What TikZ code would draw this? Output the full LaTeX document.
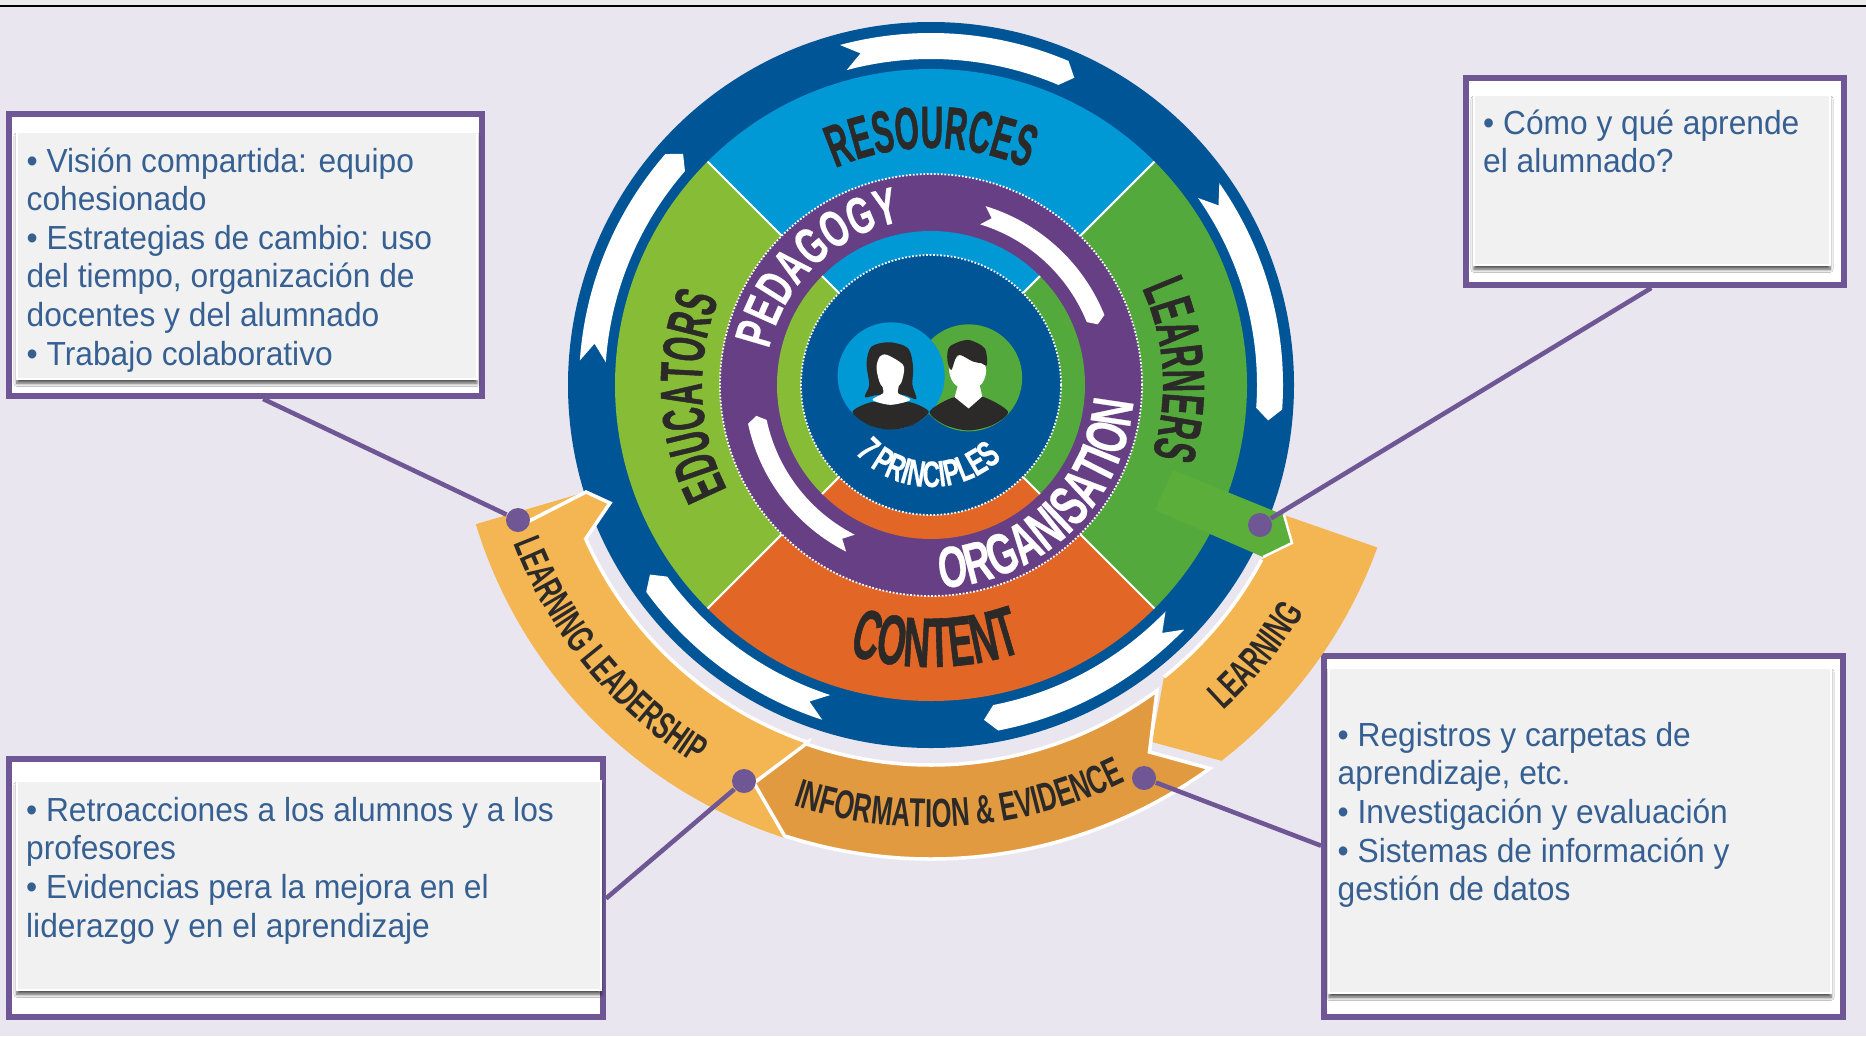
\documentclass[tikz,border=0pt]{standalone}
\usepackage{fontspec}
\setmainfont[FakeStretch=0.95]{Liberation Sans}
\newfontfamily\sectorfont[FakeStretch=0.52,FakeBold=0.8]{Liberation Sans}
\newfontfamily\ringfont[FakeStretch=0.65,FakeBold=0.4]{Liberation Sans}
\newfontfamily\bandfont[FakeStretch=0.63]{Liberation Sans}
\usetikzlibrary{decorations.text}
\usetikzlibrary{shadows.blur}

\definecolor{pagebg}{HTML}{EAE6EF}
\definecolor{darkblue}{HTML}{005596}
\definecolor{skyblue}{HTML}{0099D6}
\definecolor{limegreen}{HTML}{86BC36}
\definecolor{leafgreen}{HTML}{53A93C}
\definecolor{tagGreen}{HTML}{5CAE3A}
\definecolor{burnt}{HTML}{E26626}
\definecolor{plum}{HTML}{673F85}
\definecolor{sand}{HTML}{F4B553}
\definecolor{ochre}{HTML}{E29A41}
\definecolor{ink}{HTML}{2B2A28}
\definecolor{framepurple}{HTML}{6E5794}
\definecolor{boxtextblue}{HTML}{376092}
\definecolor{panelgrey}{HTML}{F1F1F2}

% white ribbon: notch angle, tip angle, inner and outer radius
\newcommand{\ribbon}[4]{
    \fill[white] (#1:#4) arc[start angle=#1, end angle=#2+2, radius=#4] -- (#2:{(#3+#4)/2})
        -- (#2+2:#3) arc[start angle=#2+2, end angle=#1, radius=#3] -- (#1-3:{(#3+#4)/2}) -- cycle;
}
% text on a circle: font, middle angle, radius, size, colour, text
\newcommand{\cwtext}[6]{
    \path[decorate, decoration={text along path, text align=center,
        text={|#1\bfseries\fontsize{#4}{#4}\selectfont\color{#5}|#6}}]
        (#2+80:#3) arc[start angle=#2+80, end angle=#2-80, radius=#3];
}
\newcommand{\ccwtext}[6]{
    \path[decorate, decoration={text along path, text align=center,
        text={|#1\bfseries\fontsize{#4}{#4}\selectfont\color{#5}|#6}}]
        (#2-80:#3) arc[start angle=#2-80, end angle=#2+80, radius=#3];
}

\begin{document}
\begin{tikzpicture}
    \tikzstyle{framebox}=[draw=framepurple, line width=1.7pt, fill=white, inner sep=0pt]
    \tikzstyle{panelbox}=[draw=white, line width=0.7pt, fill=panelgrey, inner sep=0pt,
        blur shadow={shadow xshift=0pt, shadow yshift=-1.2pt, shadow blur radius=0.9pt, shadow blur steps=6, shadow opacity=70}]
    \tikzstyle{boxtext}=[anchor=north west, inner sep=0pt, align=left, text=boxtextblue,
        font=\fontsize{9.5}{10.97}\selectfont]
    \tikzstyle{linkdot}=[circle, fill=framepurple, minimum size=2.4mm, inner sep=0pt]
    \tikzstyle{link}=[draw=framepurple, line width=1.3pt]
    \tikzstyle{bandedge}=[draw=white, line width=1pt]

    \useasboundingbox (-9.31,3.85) rectangle (9.35,-6.51);
    \fill[pagebg] (-9.31,3.85) rectangle (9.35,-6.51);
    \fill[black!8] (-9.31,3.85) rectangle (9.35,3.79);
    \draw[black, line width=0.8pt] (-9.31,3.79) -- (9.35,3.79);

    % frames with their panels
    \node[framebox, minimum width=4.73cm, minimum height=2.82cm] (frameA) at (-6.855,1.30) {};
    \node[framebox, minimum width=3.78cm, minimum height=2.07cm] (frameB) at (7.24,2.035) {};
    \node[framebox, minimum width=5.94cm, minimum height=2.58cm] (frameC) at (-6.25,-5.03) {};
    \node[framebox, minimum width=5.19cm, minimum height=3.61cm] (frameD) at (6.525,-4.515) {};
    \node[panelbox, minimum width=4.60cm, minimum height=2.47cm] (panelA) at (-6.84,1.295) {};
    \node[panelbox, minimum width=3.56cm, minimum height=1.70cm] (panelB) at (7.21,2.05) {};
    \node[panelbox, minimum width=5.84cm, minimum height=2.09cm] (panelC) at (-6.22,-5.005) {};
    \node[panelbox, minimum width=5.02cm, minimum height=3.25cm] (panelD) at (6.49,-4.455) {};

    \node[boxtext] (textA) at (-9.05,2.38) {• Visión compartida: equipo\\cohesionado\\• Estrategias de cambio: uso\\del tiempo, organización de\\docentes y del alumnado\\• Trabajo colaborativo};
    \node[boxtext] (textB) at (5.515,2.76) {• Cómo y qué aprende\\el alumnado?};
    \node[boxtext] (textC) at (-9.055,-4.115) {• Retroacciones a los alumnos y a los\\profesores\\• Evidencias pera la mejora en el\\liderazgo y en el aprendizaje};
    \node[boxtext] (textD) at (4.06,-3.365) {• Registros y carpetas de\\aprendizaje, etc.\\• Investigación y evaluación\\• Sistemas de información y\\gestión de datos};

    % wheel
    \fill[darkblue] (0,0) circle (3.63);
    \foreach \a/\c in {45/skyblue,135/limegreen,225/burnt,-45/leafgreen} {
        \fill[\c] (0,0) -- (\a:3.16) arc[start angle=\a, end angle=\a+90, radius=3.16] -- cycle;
    }
    \foreach \a in {45,135,225,-45} {
        \draw[white, line width=0.6pt] (0,0) -- (\a:3.16);
    }
    \fill[plum] (0,0) circle (2.11);
    \draw[white, line width=0.5pt, dash pattern=on 0.5pt off 0.5pt] (0,0) circle (2.11);
    \foreach \a/\c in {45/skyblue,135/limegreen,225/burnt,-45/leafgreen} {
        \fill[\c] (0,0) -- (\a:1.54) arc[start angle=\a, end angle=\a+90, radius=1.54] -- cycle;
    }
    \foreach \a in {45,135,225,-45} {
        \draw[white, line width=0.6pt] (0,0) -- (\a:1.54);
    }
    \fill[darkblue] (0,0) circle (1.30);
    \draw[white, line width=0.5pt, dash pattern=on 0.5pt off 0.5pt] (0,0) circle (1.30);

    % arrows
    \foreach \p/\q in {105/65,35/-6,-44/-81,252/214,176/137} {
        \ribbon{\p}{\q}{3.26}{3.52}
    }
    \foreach \p/\q in {73/20,243/190} {
        \ribbon{\p}{\q}{1.68}{1.87}
    }

    % outer band, over the ring
    \fill[sand] (197:4.76) arc[start angle=197, end angle=252, radius=4.76] -- (251:3.78)
        arc[start angle=251, end angle=204, radius=3.78] -- (-3.21,-1.18) -- (-3.45,-1.07) -- cycle;
    \draw[bandedge] (251:3.78) arc[start angle=251, end angle=204, radius=3.78] -- (-3.21,-1.18) -- (-3.45,-1.07) -- (199:4.4);
    \fill[sand] (-20:4.75) arc[start angle=-20, end angle=-52.3, radius=4.75] -- (2.21,-3.57)
        -- (2.33,-2.92) arc[start angle=-51.5, end angle=-28, radius=3.75] -- (3.61,-1.58) -- (3.53,-1.30) -- cycle;
    \draw[bandedge] (2.33,-2.92) arc[start angle=-51.5, end angle=-28, radius=3.75];
    \draw[fill=ochre, bandedge] (251:3.78) -- (-1.77,-3.98) -- (252:4.74)
        arc[start angle=252, end angle=306, radius=4.74] -- (2.185,-3.67) -- (306.5:3.80)
        arc[start angle=306.5, end angle=251, radius=3.80] -- cycle;

    % tag over the ring
    \fill[tagGreen] (2.42,-0.85) -- (3.53,-1.30) -- (3.61,-1.58) -- (3.32,-1.72) -- (2.24,-1.25) -- cycle;
    \draw[white, line width=0.7pt] (3.53,-1.30) -- (3.61,-1.58) -- (3.32,-1.72);

    % people
    \begin{scope}[shift={(-1.31,0.75)}, x=0.00333cm, y=-0.00333cm]
        \fill[leafgreen] (507,204) circle (161);
        \fill[skyblue] (274,198) circle (161);
        \fill[ink] plot[smooth cycle] coordinates {(200,160) (215,110) (270,97) (325,115) (340,170) (338,225) (350,268) (310,255) (235,255) (195,262) (208,225)};
        \fill[ink] plot[smooth cycle] coordinates {(158,306) (215,277) (272,285) (330,277) (387,306) (340,345) (272,360) (205,345)};
        \fill[white] plot[smooth cycle] coordinates {(218,270) (250,250) (250,225) (295,225) (295,250) (332,270) (272,285)};
        \fill[white] plot[smooth cycle] coordinates {(230,175) (240,140) (262,135) (310,165) (310,200) (300,225) (272,240) (243,225)};
        \fill[ink] plot[smooth cycle] coordinates {(390,305) (465,262) (507,290) (545,260) (625,305) (580,345) (507,362) (435,345)};
        \fill[white] (465,262) -- (475,225) -- (540,225) -- (548,260) -- (507,296) -- cycle;
        \fill[white] plot[smooth cycle] coordinates {(450,170) (462,220) (505,240) (548,220) (558,170) (505,120)};
        \fill[ink] plot[smooth cycle] coordinates {(443,150) (450,110) (505,90) (555,115) (562,165) (545,160) (520,155) (475,135) (455,180)};
    \end{scope}

    % labels
    \cwtext{\sectorfont}{90}{2.37}{17}{ink}{RESOURCES}
    \cwtext{\sectorfont}{182.5}{2.29}{17}{ink}{EDUCATORS}
    \cwtext{\sectorfont}{3.5}{2.32}{17}{ink}{LEARNERS}
    \ccwtext{\sectorfont}{271}{2.82}{20}{ink}{CONTENT}
    \cwtext{\ringfont}{134}{1.66}{14.7}{white}{PEDAGOGY}
    \ccwtext{\ringfont}{-46}{2.03}{16.5}{white}{ORGANISATION}
    \ccwtext{\ringfont}{268}{1.02}{10.5}{white}{7 PRINCIPLES}
    \ccwtext{\bandfont}{219.5}{4.46}{11}{ink}{LEARNING LEADERSHIP}
    \ccwtext{\bandfont}{274}{4.42}{11.5}{ink}{INFORMATION {\&} EVIDENCE}
    \ccwtext{\bandfont}{320.3}{4.37}{11}{ink}{LEARNING}

    % connectors
    \node[linkdot] (dotA) at (-4.13,-1.35) {};
    \node[linkdot] (dotB) at (3.29,-1.40) {};
    \node[linkdot] (dotC) at (-1.87,-3.96) {};
    \node[linkdot] (dotD) at (2.13,-3.93) {};
    \draw[link] (dotA) -- (frameA.-83);
    \draw[link] (dotB) -- (frameB.-92);
    \draw[link] (dotC) -- (frameC.-2);
    \draw[link] (dotD) -- (frameD.182);
\end{tikzpicture}
\end{document}
